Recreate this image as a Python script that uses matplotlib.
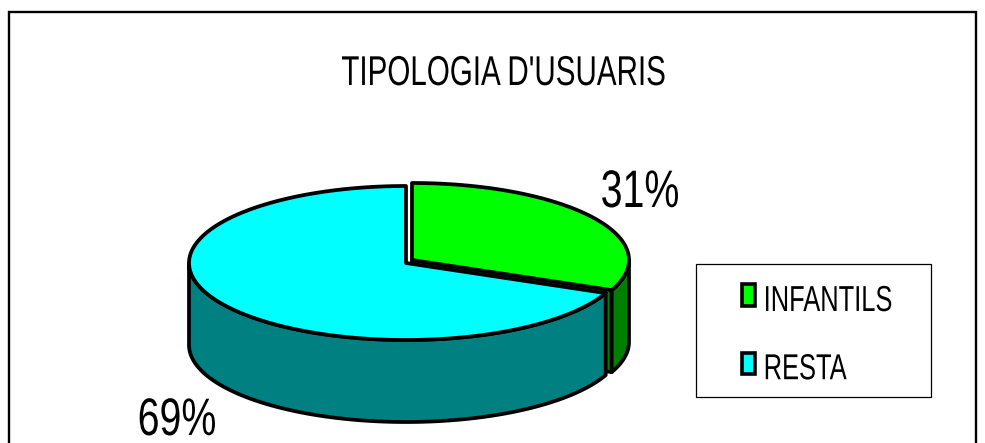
import numpy as np
import matplotlib
matplotlib.use("Agg")
import matplotlib.pyplot as plt
from matplotlib.patches import Patch, Rectangle
from matplotlib.patheffects import AbstractPathEffect
from matplotlib.transforms import Affine2D

title = "TIPOLOGIA D'USUARIS"
categories = ["INFANTILS", "RESTA"]
shares = [31.4, 68.6]
top_colors = ["#00FF00", "#00FFFF"]
wall_colors = ["#008000", "#008080"]

plt.rcParams["font.family"] = "Liberation Sans"

W, H = 985, 443
fig = plt.figure(figsize=(W / 100, H / 100), dpi=100)
ax = fig.add_axes([0, 0, 1, 1])
ax.set_xlim(0, W)
ax.set_ylim(H, 0)
ax.axis("off")

RX, RY, DEPTH = 217, 77, 82
LW = 2.7
CENTERS = [(412, 260), (406, 263)]


class Squeeze(AbstractPathEffect):
    """Draw a real text narrower, about a fixed display x (condensed look)."""

    def __init__(self, sx, anchor_x, dy=0):
        super().__init__()
        self.sx, self.anchor_x, self.dy = sx, anchor_x, dy

    def draw_path(self, renderer, gc, tpath, affine, rgbFace=None):
        squeeze = Affine2D().translate(-self.anchor_x, self.dy).scale(self.sx, 1).translate(self.anchor_x, 0)
        renderer.draw_path(gc, tpath, affine + squeeze, rgbFace)


def arc(center, a0, a1, dy=0):
    t = np.radians(np.linspace(a0, a1, 200))
    return center[0] + RX * np.sin(t), center[1] - RY * np.cos(t) + dy


def draw_poly(xs, ys, color, z):
    ax.fill(xs, ys, facecolor=color, edgecolor="black", lw=LW, joinstyle="round", zorder=z)


edges = np.concatenate([[0], np.cumsum(shares)]) / np.sum(shares) * 360
z = 2
for i in range(2):
    a0, a1 = edges[i], edges[i + 1]
    c = CENTERS[i]
    if i == 0:
        tx, ty = arc(c, a1, a1)
        draw_poly([c[0], tx[0], tx[0], c[0]], [c[1], ty[0], ty[0] + DEPTH, c[1] + DEPTH],
                  wall_colors[i], z)
        z += 1
    v0, v1 = max(a0, 90), min(a1, 270)
    x1, y1 = arc(c, v0, v1)
    x2, y2 = arc(c, v0, v1, DEPTH)
    draw_poly(np.r_[x1, x2[::-1]], np.r_[y1, y2[::-1]], wall_colors[i], z)
    z += 1
    xa, ya = arc(c, a0, a1)
    draw_poly(np.r_[c[0], xa], np.r_[c[1], ya], top_colors[i], z)
    z += 1

# value labels
ax.text(640, 193, f"{round(shares[0])}%", ha="center", va="center", fontsize=38, color="black",
        path_effects=[Squeeze(0.745, 640)])
ax.text(177, 415, f"{round(shares[1])}%", ha="center", va="center", fontsize=38, color="black",
        path_effects=[Squeeze(0.745, 177, dy=-6)])

# title
ax.text(503.5, 74, title, ha="center", va="center", fontsize=30, color="black",
        path_effects=[Squeeze(0.71, 503.5)])

# outer frame (open at the bottom, cut by the image edge)
ax.plot([9, 9, 976, 976], [H + 5, 12, 12, H + 5], color="black", lw=1.7,
        solid_joinstyle="miter", zorder=1)

# legend box and legend
ax.add_patch(Rectangle((696, 264), 235, 133, facecolor="white", edgecolor="black", lw=0.9, zorder=20))
handles = [Patch(facecolor=c, edgecolor="black", lw=2.6, joinstyle="round") for c in top_colors]
leg = ax.legend(handles, categories, loc="upper left", bbox_to_anchor=(742 / W, 1 - 281 / H),
                bbox_transform=ax.transAxes, frameon=False, fontsize=26, handlelength=0.35,
                handleheight=0.55, handletextpad=0.25, labelspacing=0.92, borderpad=0, borderaxespad=0)
leg.set_zorder(21)
fig.canvas.draw()
for t in leg.get_texts():
    t.set_path_effects([Squeeze(0.705, t.get_window_extent().x0, dy=-3)])

fig.savefig("out.png", dpi=100)
